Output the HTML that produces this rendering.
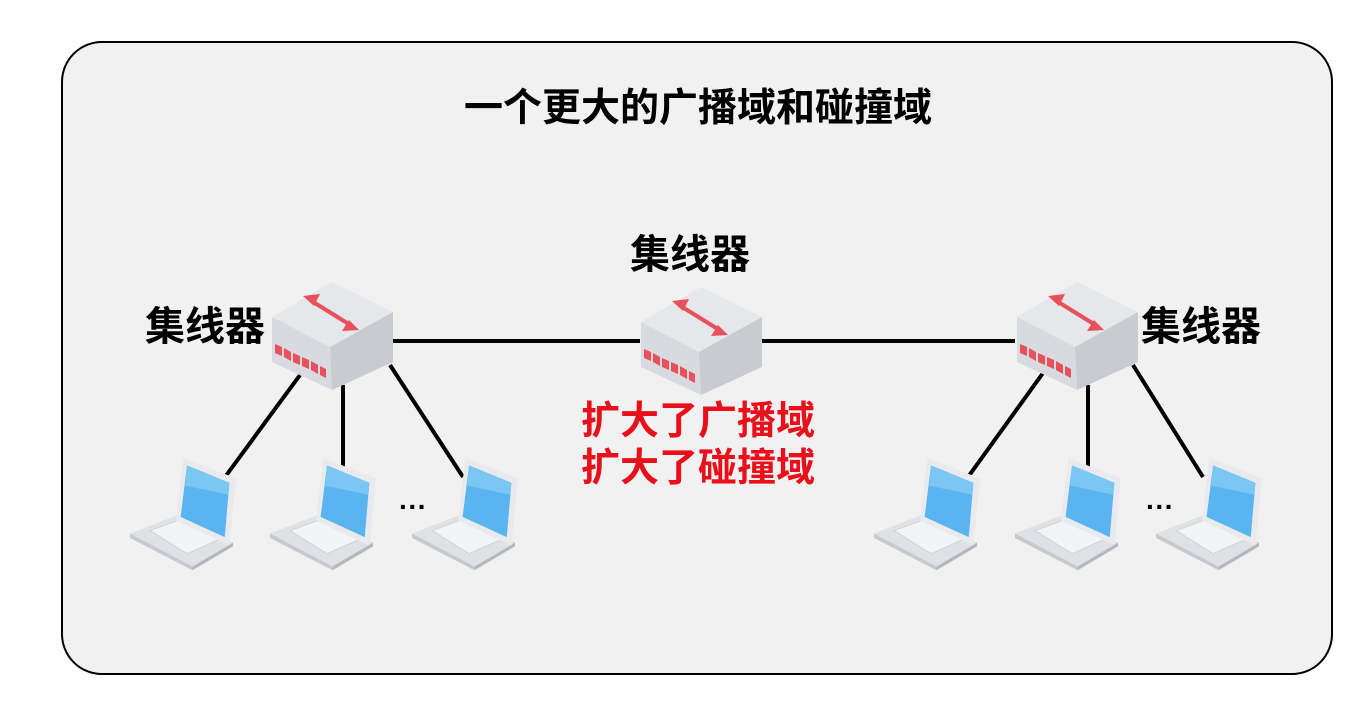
<!DOCTYPE html>
<html><head><meta charset="utf-8"><style>
body{margin:0;width:1372px;height:708px;background:#fff;overflow:hidden;font-family:"Liberation Sans","Noto Sans CJK SC",sans-serif}
</style></head><body>
<svg width="1372" height="708" xmlns="http://www.w3.org/2000/svg">
<defs>
<g id="hub">
<polygon points="62,0 2,35 60,65 123,30" fill="#e6e7eb"/>
<polygon points="2,35 60,65 62,108 2,80" fill="#d9dae0"/>
<polygon points="60,65 123,30 123,80 62,108" fill="#c9cad2"/>
<line x1="40" y1="18" x2="82" y2="44" stroke="#e8505b" stroke-width="4"/>
<polygon points="33,14 50,12 44,24" fill="#e8505b"/>
<polygon points="89,48 72,49 79,38" fill="#e8505b"/>
<g fill="#e8505b">
<polygon points="5,62 12,65 12,74 5,71"/><polygon points="14,66 21,70 21,79 14,75"/><polygon points="23,71 30,74 30,83 23,80"/><polygon points="32,75 39,78 39,87 32,84"/><polygon points="41,79 48,83 48,92 41,88"/><polygon points="50,84 56,87 56,96 50,93"/>
</g>
</g>
<g id="lap0">
<polygon points="0,82 52,62 112,92 68,118" fill="#dfe1e6"/>
<polygon points="0,82 68,118 68,122 0,87" fill="#c7c9cf"/>
<polygon points="68,118 112,92 112,96 68,122" fill="#b5b7bd"/>
<polygon points="22,79 57,66 98,88 62,104" fill="#f3f4f6" stroke="#d0d2d8" stroke-width="1"/>
<polygon points="58,0 115,22 108,95 50,68" fill="#e9eaee"/>
<polygon points="62,8 108,27 103,86 55,64" fill="#5ab4ef"/>
<polygon points="62,8 108,27 107,40 60,30" fill="#7cc6f4"/>
</g>
<g id="lap"><use href="#lap0" transform="scale(0.92)"/></g>
</defs>
<rect x="62" y="42" width="1270" height="632" rx="40" fill="#f1f1f1" stroke="#000" stroke-width="2"/>
<text x="698" y="121" font-size="39" font-weight="bold" text-anchor="middle" font-family="Liberation Sans,Noto Sans CJK SC,sans-serif">一个更大的广播域和碰撞域</text>
<g stroke="#000" stroke-width="4">
<line x1="393" y1="341" x2="640" y2="341"/><line x1="762" y1="341" x2="1015" y2="341"/>
<line x1="300" y1="375" x2="225" y2="477"/><line x1="343" y1="385" x2="343" y2="468"/><line x1="390" y1="365" x2="463" y2="477"/>
<line x1="1043" y1="373" x2="968" y2="477"/><line x1="1088" y1="385" x2="1088" y2="468"/><line x1="1133" y1="365" x2="1203" y2="477"/>
</g>
<use href="#hub" x="270" y="282"/>
<use href="#hub" x="639" y="287"/>
<use href="#hub" x="1015" y="282"/>
<use href="#lap" x="130" y="458"/><use href="#lap" x="270" y="458"/><use href="#lap" x="412" y="458"/>
<use href="#lap" x="874" y="458"/><use href="#lap" x="1015" y="458"/><use href="#lap" x="1156" y="458"/>
<g font-size="40" font-weight="bold" font-family="Liberation Sans,Noto Sans CJK SC,sans-serif" text-anchor="middle">
<text x="690" y="268">集线器</text><text x="205" y="340">集线器</text><text x="1201" y="340">集线器</text>
<text x="413" y="516" font-size="28">···</text><text x="1160" y="516" font-size="28">···</text>
</g>
<g font-size="39" font-weight="bold" fill="#e8101a" font-family="Liberation Sans,Noto Sans CJK SC,sans-serif" text-anchor="middle">
<text x="698" y="434">扩大了广播域</text><text x="698" y="481">扩大了碰撞域</text>
</g>
</svg>
</body></html>
